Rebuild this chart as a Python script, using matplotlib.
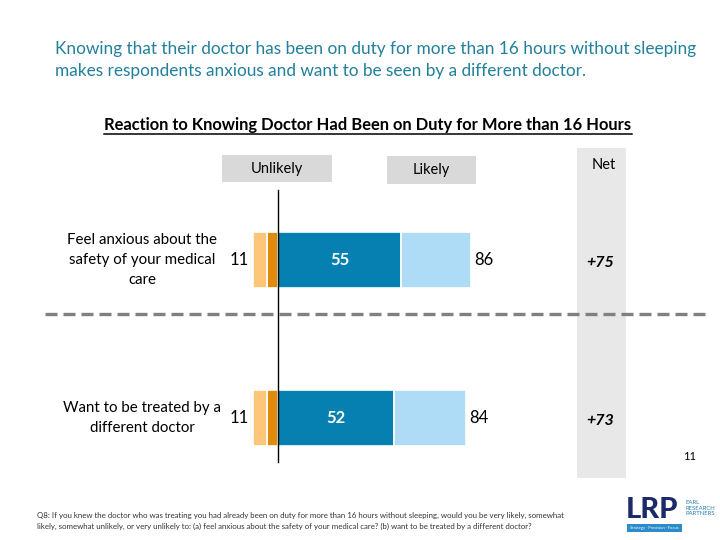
import matplotlib
matplotlib.use("Agg")
import matplotlib.pyplot as plt
from matplotlib.patches import Rectangle

# ---- data ----
categories = ["Feel anxious about the\nsafety of your medical\ncare",
              "Want to be treated by a\ndifferent doctor"]
very_unlikely = [5, 5]
somewhat_unlikely = [6, 6]
very_likely = [55, 52]
somewhat_likely = [31, 32]
total_unlikely = [11, 11]
total_likely = [86, 84]
net = ["+75", "+73"]

title = ("Knowing that their doctor has been on duty for more than 16 hours without sleeping\n"
         "makes respondents anxious and want to be seen by a different doctor.")
subtitle = "Reaction to Knowing Doctor Had Been on Duty for More than 16 Hours"
footnote = ("Q8: If you knew the doctor who was treating you had already been on duty for more than 16 hours without sleeping, would you be very likely, somewhat\n"
            "likely, somewhat unlikely, or very unlikely to: (a) feel anxious about the safety of your medical care? (b) want to be treated by a different doctor?")

C_VL = "#0580B0"
C_SL = "#AEDCF6"
C_VU = "#E08A0E"
C_SU = "#FDC678"
FONT = "Lato"

W, H = 720, 540
fig = plt.figure(figsize=(7.2, 5.4), dpi=100)
fig.patch.set_facecolor("white")

def fx(px):
    return px / W

def fy(py):
    return 1 - py / H

# axes covering whole figure; x in percent units, y in category units
ax = fig.add_axes([0, 0, 1, 1])
x0, scale = 278.0, 2.24
ax.set_xlim(-x0 / scale, (W - x0) / scale)
y0, step = 260.0, 158.0
ax.set_ylim((H - y0) / step, -y0 / step)
ax.axis("off")

def bg_rect(px0, py0, px1, py1, color):
    ax.add_patch(Rectangle((fx(px0), fy(py1)), fx(px1) - fx(px0), fy(py0) - fy(py1),
                           transform=fig.transFigure, facecolor=color, edgecolor="none",
                           zorder=0))

# net column background and header boxes
bg_rect(577, 148, 626, 478, "#E8E8E8")
bg_rect(222, 155, 332, 182, "#D9D9D9")
bg_rect(387, 156, 476, 184, "#D9D9D9")

ypos = list(range(len(categories)))
bh = 0.36
ax.barh(ypos, very_likely, height=bh, color=C_VL, edgecolor="white", linewidth=1.2, zorder=3)
ax.barh(ypos, somewhat_likely, left=very_likely, height=bh, color=C_SL, edgecolor="white", linewidth=1.2, zorder=3)
neg_vu = [-v for v in very_unlikely]
ax.barh(ypos, neg_vu, height=bh, color=C_VU, edgecolor="white", linewidth=1.2, zorder=3)
ax.barh(ypos, [-v for v in somewhat_unlikely], left=neg_vu, height=bh, color=C_SU, edgecolor="white", linewidth=1.2, zorder=3)

for i in ypos:
    ax.text(very_likely[i] / 2, i, str(very_likely[i]), ha="center", va="center",
            color="white", fontsize=12, fontweight="bold", family=FONT, zorder=4)
    ax.text(total_likely[i] + 1.5, i, str(total_likely[i]), ha="left", va="center",
            color="black", fontsize=12, family=FONT, zorder=4)
    ax.text(-total_unlikely[i] - 2, i, str(total_unlikely[i]), ha="right", va="center",
            color="black", fontsize=12, family=FONT, zorder=4)
    ax.text((142 - x0) / scale, i, categories[i], ha="center", va="center",
            color="black", fontsize=10.8, family=FONT, linespacing=1.55, zorder=4)
    ax.text((600 - x0) / scale, i + 0.02, net[i], ha="center", va="center",
            color="black", fontsize=11.5, fontweight="bold", style="italic", family=FONT, zorder=4)

# zero line
ax.plot([0, 0], [(190 - y0) / step, (462 - y0) / step], color="black", lw=1, zorder=5)

fig.text(fx(604), fy(165), "Net", ha="center", va="center", fontsize=10.5, family=FONT)
fig.text(fx(277), fy(168.5), "Unlikely", ha="center", va="center", fontsize=10.5, family=FONT)
fig.text(fx(431.5), fy(170), "Likely", ha="center", va="center", fontsize=10.5, family=FONT)

# dashed separator
ax.plot([(45 - x0) / scale, (710 - x0) / scale], [(314 - y0) / step] * 2, color="#808080", lw=2.4,
        dashes=(3.6, 1.8), zorder=2)

# title
fig.text(fx(55), fy(60), title, ha="left", va="center", fontsize=12.4, color="#22809C",
         family=FONT, linespacing=1.5)

# subtitle, underlined
st = fig.text(fx(368), fy(125), subtitle, ha="center", va="center", fontsize=11.9,
              fontweight="bold", family=FONT)
fig.canvas.draw()
bb = st.get_window_extent()
fig.add_artist(plt.Line2D([bb.x0 / W, bb.x1 / W], [fy(134), fy(134)], color="black", lw=1.1,
                          transform=fig.transFigure))

# page number
fig.text(fx(690), fy(456), "11", ha="center", va="center", fontsize=8, family=FONT)

# footnote
fig.text(fx(37), fy(521), footnote, ha="left", va="center", fontsize=5.7, color="#333333",
         family=FONT, linespacing=1.5)

# logo
fig.text(fx(626), fy(510), "LRP", ha="left", va="center", fontsize=21, fontweight="black",
         color="#1C2A6A", family=FONT)
fig.text(fx(685), fy(508), "EARL\nRESEARCH\nPARTNERS", ha="left", va="center", fontsize=4.3,
         color="#2A7DB5", family=FONT, linespacing=1.15)
fig.patches.append(Rectangle((fx(627), fy(532)), fx(682) - fx(627), fy(524) - fy(532),
                             transform=fig.transFigure, facecolor="#2A8CC8", edgecolor="none"))
fig.text(fx(630), fy(528), "Strategy · Precision · Focus", ha="left", va="center", fontsize=3,
         color="white", family=FONT)

fig.savefig("out.png", dpi=100, facecolor="white")
